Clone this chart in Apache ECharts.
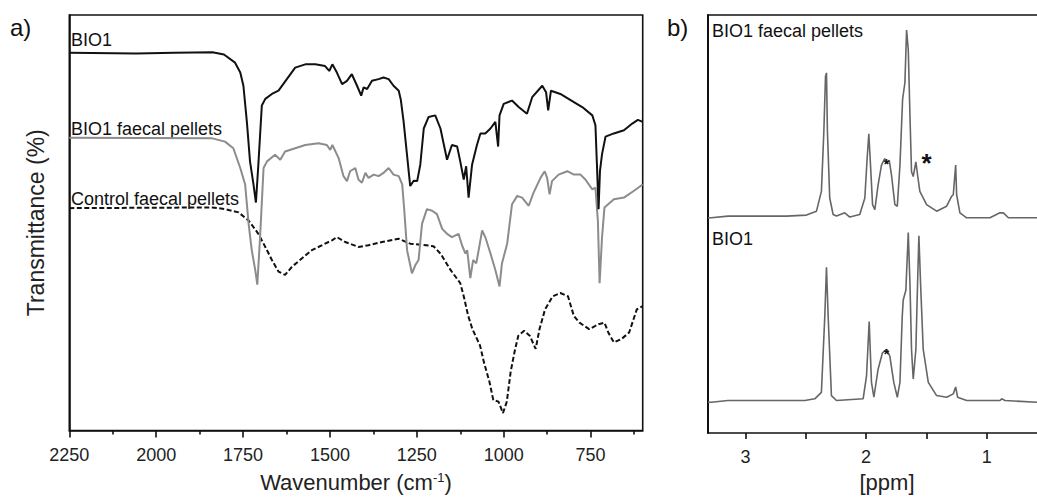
<!DOCTYPE html>
<html><head><meta charset="utf-8">
<script src="https://cdn.jsdelivr.net/npm/echarts@6/dist/echarts.min.js"></script>
<style>html,body{margin:0;padding:0;background:#fff}#c{width:1037px;height:498px}</style>
</head><body><div id="c"></div>
<script>
// ---- tick values / labels ----
const irTicks = [2250, 2000, 1750, 1500, 1250, 1000, 750];
const irMinorTicks = [2125, 1875, 1625, 1375, 1125, 875, 625];
const nmrTicks = [3, 2.5, 2, 1.5, 1];
const nmrTickLabels = [3, 2, 1];

// ---- series names ----
const irNames = ['BIO1', 'BIO1 faecal pellets', 'Control faecal pellets'];
const nmrNames = ['BIO1 faecal pellets', 'BIO1'];

// ---- IR spectra: [wavenumber cm-1, transmittance (arb., offset)] ----
const irBIO1 = [[2250,382.7],[2057,382],[1947,382.7],[1838,383.3],[1805,381],[1773,372.7],[1758,362.7],[1749,349.3],[1739,312.7],[1730,272.7],[1720,249.3],[1713,231],[1706,269.3],[1696,329.3],[1686,336],[1667,341],[1648,344.3],[1624,356],[1600,367.7],[1571,371],[1542,371],[1514,369.3],[1502,364.3],[1493,371],[1480,362.7],[1465,351],[1451,354.3],[1437,361],[1422,349.3],[1410,339.3],[1403,347.7],[1393,346],[1379,354.3],[1360,356],[1346,357.7],[1331,356],[1317,349.3],[1302,344.3],[1296,335],[1288,313],[1269,247.7],[1259,253],[1249,252.7],[1240,269.3],[1230,306],[1216,317.7],[1197,319.3],[1182,306],[1163,274.3],[1149,289.3],[1134,287.7],[1125,272.7],[1115,254.3],[1108,267.7],[1101,236],[1091,269.3],[1077,289.3],[1067,301],[1053,301],[1038,306],[1024,312.7],[1016,287.7],[1012,319.3],[1000,331],[976,334.3],[957,327.7],[933,321],[918,337.7],[889,349.3],[878,342.7],[872,324.3],[864,344.3],[837,341],[798,332.7],[774,327.7],[745,319.3],[736,309.3],[731,262.7],[727,224.3],[723,262.7],[717,280],[707,297.7],[683,301],[654,304.3],[630,311],[614,314.7],[600,312.7]];
const irBIO1Pellets = [[2250,296.7],[1838,296],[1802,292.7],[1778,286],[1758,266],[1744,249.3],[1734,209.3],[1725,182.7],[1715,162.7],[1709,147.7],[1701,196],[1691,266],[1681,272.7],[1658,279.3],[1643,274.3],[1629,282.7],[1600,286],[1571,289.3],[1533,291],[1509,289.3],[1499,284.3],[1493,289.3],[1475,276],[1461,257.7],[1451,252.7],[1442,262.7],[1427,266],[1418,254.3],[1408,251],[1398,261],[1389,256],[1374,259.3],[1360,257.7],[1346,261],[1331,266],[1317,259.3],[1302,257.7],[1292,249.3],[1286,222.7],[1278,182.7],[1264,159.3],[1254,167.7],[1245,172.7],[1235,209.3],[1221,224.3],[1206,222.7],[1192,219.3],[1177,204.3],[1163,199.3],[1149,196],[1130,199.3],[1120,187.7],[1110,179.3],[1105,182.7],[1096,154.3],[1088,172.7],[1079,169.3],[1072,182.7],[1062,202.7],[1053,196],[1038,179.3],[1024,162.7],[1012,146],[1005,169.3],[990,189.3],[976,229.3],[961,237.7],[947,236],[928,227.7],[914,241],[894,256],[882,262.7],[875,256],[868,239.3],[861,252.7],[842,259.3],[817,262.7],[798,259.3],[779,259.3],[765,254.3],[745,244.3],[736,246],[729,212.7],[724,149.3],[717,196],[710,226],[683,234.3],[654,236],[626,242.7],[600,249.3]];
const irControlPellets = [[2250,225.3],[1838,226],[1802,224.3],[1763,221],[1734,212.7],[1706,199.3],[1686,186],[1667,172.7],[1648,161],[1629,157.7],[1609,166],[1581,174.3],[1552,182.7],[1514,189.3],[1494,192.7],[1480,196],[1456,191],[1418,186],[1389,187.7],[1350,191],[1302,194.3],[1269,189.3],[1230,188],[1202,186.7],[1182,179.3],[1153,162.7],[1125,149.3],[1115,136],[1102,116],[1090,102.7],[1068,86],[1057,69.3],[1041,49.3],[1030,31],[1015,29.3],[1002,17.7],[991,29.3],[980,59.3],[969,79.3],[958,96],[941,101],[925,96],[908,82.7],[897,102.7],[881,122.7],[859,136],[837,139.3],[815,136],[798,116],[782,109.3],[754,102.7],[727,107.7],[710,109.3],[699,99.3],[683,89.3],[661,92.7],[639,99.3],[617,122.7],[600,126]];

// ---- 1H NMR spectra: [ppm, intensity (arb., offset)] ----
const nmrBIO1Pellets = [[3.31,218],[3.282,218],[3.144,219.7],[2.66,219.7],[2.494,220.7],[2.411,224.7],[2.37,244.7],[2.35,304.7],[2.336,361.3],[2.328,364.7],[2.32,304.7],[2.301,238],[2.273,221.3],[2.245,219.7],[2.176,223],[2.135,218.7],[2.052,221.3],[2.01,238],[1.991,278],[1.977,303],[1.963,271.3],[1.946,231.3],[1.927,226.3],[1.9,251.3],[1.872,271.3],[1.845,278],[1.83,273],[1.808,276.3],[1.789,261.3],[1.761,231.3],[1.741,229.7],[1.719,271.3],[1.697,338],[1.678,354.7],[1.664,408],[1.65,388],[1.636,321.3],[1.623,264.7],[1.609,259.7],[1.587,274.7],[1.573,261.3],[1.554,244.7],[1.498,231.3],[1.415,224.7],[1.332,229.7],[1.291,239.7],[1.277,241.3],[1.257,271.3],[1.249,241.3],[1.222,223],[1.166,218],[0.973,218],[0.89,223],[0.862,223],[0.82,218],[0.583,218]];
const nmrBIO1 = [[3.31,31.3],[3.282,31.3],[3.144,33],[2.508,33],[2.425,34.7],[2.37,41.3],[2.342,118],[2.328,168],[2.314,118],[2.287,38],[2.245,33],[2.024,34.7],[1.996,58],[1.974,113],[1.955,51.3],[1.935,36.3],[1.9,64.7],[1.864,81.3],[1.83,84.7],[1.803,78],[1.77,51.3],[1.741,36.3],[1.719,51.3],[1.7,118],[1.692,134.7],[1.67,144.7],[1.65,203],[1.636,151.3],[1.623,84.7],[1.609,54.7],[1.587,84.7],[1.573,151.3],[1.562,199.7],[1.548,151.3],[1.526,84.7],[1.484,51.3],[1.415,38],[1.332,36.3],[1.277,39.7],[1.257,46.7],[1.241,36.3],[1.166,33],[0.89,33],[0.876,34.7],[0.848,33],[0.583,31.3]];

// ---- annotation marks (asterisks) ----
const nmrPelletsStars = [{coord:[1.498,273], size:26}, {coord:[1.83,272], size:14}];
const nmrBIO1Stars = [{coord:[1.83,80], size:14}];

const FONT = '"Liberation Sans", Arial, sans-serif';
const INK = '#111';

function starMarks(list) {
  return {
    symbol: 'circle', symbolSize: 1, silent: true,
    itemStyle: {color: 'rgba(0,0,0,0)'},
    data: list.map(s => ({
      coord: s.coord,
      label: {show: true, position: 'inside', formatter: '*', color: INK,
              fontSize: s.size, fontWeight: 'bold', fontFamily: FONT}
    }))
  };
}
const plain = v => String(v);

const chart = echarts.init(document.getElementById('c'), null, {renderer: 'svg'});
const axisLine = {show: true, lineStyle: {color: INK, width: 1.6}};
chart.setOption({
  animation: false,
  backgroundColor: '#fff',
  textStyle: {fontFamily: FONT},
  grid: [
    {left: 69.3, top: 15, width: 573.4, height: 421, show: true, borderColor: INK, borderWidth: 1.6},
    {left: 708, top: 15, right: 0, height: 423.3}
  ],
  xAxis: [
    {gridIndex: 0, type: 'value', inverse: true, min: 600, max: 2250, position: 'bottom',
     axisLine: axisLine,
     axisTick: {show: true, customValues: irTicks, length: 7, lineStyle: {color: INK, width: 1.6}},
     axisLabel: {customValues: irTicks, formatter: plain, fontSize: 18, color: '#222', margin: 15, fontFamily: FONT},
     splitLine: {show: false},
     name: 'Wavenumber (cm{sup|-1})', nameLocation: 'middle', nameGap: 40,
     nameTextStyle: {fontSize: 22, color: '#222', fontFamily: FONT,
       rich: {sup: {fontSize: 13, color: '#222', fontFamily: FONT, verticalAlign: 'top', padding: [0, 0, 10, 0]}}}},
    {gridIndex: 0, type: 'value', inverse: true, min: 600, max: 2250, position: 'bottom',
     axisLine: {show: false},
     axisTick: {show: true, customValues: irMinorTicks, length: 4, lineStyle: {color: INK, width: 1.6}},
     axisLabel: {show: false}, splitLine: {show: false}},
    {gridIndex: 1, type: 'value', inverse: true, min: 0.583, max: 3.31, position: 'bottom',
     axisLine: axisLine,
     axisTick: {show: true, customValues: nmrTicks, length: 6, lineStyle: {color: INK, width: 1.6}},
     axisLabel: {customValues: nmrTickLabels, formatter: plain, fontSize: 18, color: '#222', margin: 15, fontFamily: FONT},
     splitLine: {show: false},
     name: '[ppm]', nameLocation: 'middle', nameGap: 34,
     nameTextStyle: {fontSize: 22, color: '#222', fontFamily: FONT, padding: [0, 0, 0, 29]}},
    {gridIndex: 1, type: 'value', inverse: true, min: 0.583, max: 3.31, position: 'top',
     axisLine: axisLine, axisTick: {show: false}, axisLabel: {show: false}, splitLine: {show: false}}
  ],
  yAxis: [
    {gridIndex: 0, type: 'value', min: 0, max: 421, axisLine: axisLine,
     axisTick: {show: false}, axisLabel: {show: false}, splitLine: {show: false},
     name: 'Transmittance (%)', nameLocation: 'middle', nameGap: 22,
     nameTextStyle: {fontSize: 23, color: '#222', fontFamily: FONT}},
    {gridIndex: 1, type: 'value', min: 0, max: 423.3, axisLine: {show: true, lineStyle: {color: INK, width: 2}},
     axisTick: {show: false}, axisLabel: {show: false}, splitLine: {show: false}}
  ],
  series: [
    {name: irNames[2], type: 'line', xAxisIndex: 0, yAxisIndex: 0, data: irControlPellets,
     showSymbol: false, z: 1, lineStyle: {color: INK, width: 2, type: [5, 2.5]}},
    {name: irNames[1], type: 'line', xAxisIndex: 0, yAxisIndex: 0, data: irBIO1Pellets,
     showSymbol: false, z: 2, lineStyle: {color: '#8c8c8c', width: 2}},
    {name: irNames[0], type: 'line', xAxisIndex: 0, yAxisIndex: 0, data: irBIO1,
     showSymbol: false, z: 3, lineStyle: {color: INK, width: 2}},
    {name: nmrNames[0], type: 'line', xAxisIndex: 2, yAxisIndex: 1, data: nmrBIO1Pellets,
     showSymbol: false, lineStyle: {color: '#666', width: 1.6}, markPoint: starMarks(nmrPelletsStars)},
    {name: nmrNames[1], type: 'line', xAxisIndex: 2, yAxisIndex: 1, data: nmrBIO1,
     showSymbol: false, lineStyle: {color: '#666', width: 1.6}, markPoint: starMarks(nmrBIO1Stars)}
  ],
  graphic: [
    {type: 'text', x: 10, y: 27, style: {text: 'a)', fontSize: 24, fontFamily: FONT, fill: INK, verticalAlign: 'middle'}},
    {type: 'text', x: 667, y: 27, style: {text: 'b)', fontSize: 24, fontFamily: FONT, fill: INK, verticalAlign: 'middle'}},
    {type: 'text', x: 71, y: 40, style: {text: irNames[0], fontSize: 18, fontFamily: FONT, fill: INK, verticalAlign: 'middle'}},
    {type: 'text', x: 71, y: 129, style: {text: irNames[1], fontSize: 18, fontFamily: FONT, fill: INK, verticalAlign: 'middle'}},
    {type: 'text', x: 71, y: 199, style: {text: irNames[2], fontSize: 18, fontFamily: FONT, fill: INK, verticalAlign: 'middle'}},
    {type: 'text', x: 712, y: 31, style: {text: nmrNames[0], fontSize: 18, fontFamily: FONT, fill: INK, verticalAlign: 'middle'}},
    {type: 'text', x: 712, y: 239, style: {text: nmrNames[1], fontSize: 18, fontFamily: FONT, fill: INK, verticalAlign: 'middle'}}
  ]
});
</script>
</body></html>
